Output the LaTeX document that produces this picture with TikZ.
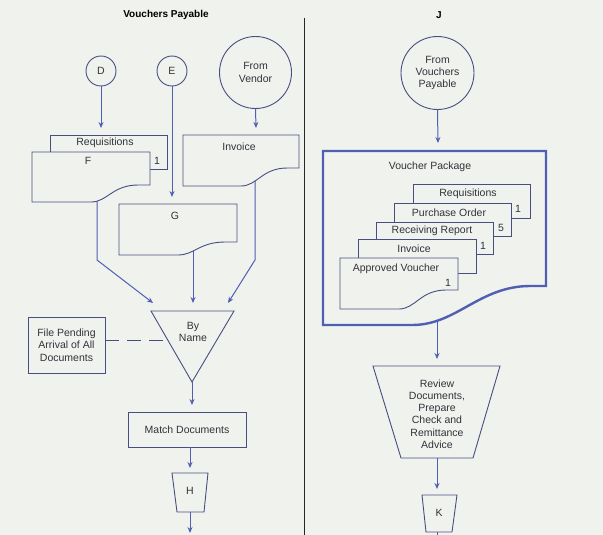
\documentclass[tikz,border=0pt]{standalone}
\usepackage{fontspec}
\setmainfont{Liberation Sans}
\usetikzlibrary{arrows.meta}
\definecolor{bg}{RGB}{240,242,238}
\definecolor{outl}{RGB}{72,78,128}
\definecolor{arr}{RGB}{80,94,180}
\definecolor{txt}{RGB}{50,50,58}
% [opts]{left}{top}{right}{bottom-left}{bottom-right}
\newcommand{\docshape}[6][]{%
  \pgfmathsetmacro\dxa{#2+0.5*(#4-#2)}%
  \pgfmathsetmacro\dxb{#2+0.64*(#4-#2)}%
  \pgfmathsetmacro\dxd{#2+0.68*(#4-#2)}%
  \pgfmathsetmacro\dxc{#2+0.9*(#4-#2)}%
  \draw[docline,#1] (#2,#3) -- (#4,#3) -- (#4,#6) -- (\dxc,#6)
     .. controls (\dxd,#6) and (\dxb,#5) .. (\dxa,#5) -- (#2,#5) -- cycle;}
\newcommand{\pkgshape}[6][]{%
  \pgfmathsetmacro\dxa{#2+0.4*(#4-#2)}%
  \pgfmathsetmacro\dxb{#2+0.6*(#4-#2)}%
  \pgfmathsetmacro\dxd{#2+0.7*(#4-#2)}%
  \pgfmathsetmacro\dxc{#2+0.93*(#4-#2)}%
  \draw[docline,#1] (#2,#3) -- (#4,#3) -- (#4,#6) -- (\dxc,#6)
     .. controls (\dxd,#6) and (\dxb,#5) .. (\dxa,#5) -- (#2,#5) -- cycle;}
\begin{document}
\begin{tikzpicture}[x=1pt,y=-1pt,
  font=\fontsize{10.5}{12.3}\selectfont,
  docline/.style={draw=outl,line width=0.9pt,fill=bg},
  shapeline/.style={draw=outl,line width=0.9pt},
  conn/.style={draw=arr,line width=1pt,-{Stealth[length=6pt,width=5pt]}},
  plain/.style={draw=arr,line width=1pt},
  lbl/.style={text=txt,inner sep=0pt,align=center},
  circ/.style={circle,draw=outl,line width=0.9pt,inner sep=0pt,text=txt,align=center},
  boxnode/.style={rectangle,draw=outl,line width=0.9pt,inner sep=0pt,text=txt,align=center}]
\fill[bg] (0,0) rectangle (603,535);
\useasboundingbox (0,0) rectangle (603,535);

% divider and titles
\coordinate (divtop) at (304,18);
\coordinate (divbot) at (304,535);
\draw[black!85,line width=0.8pt] (divtop) -- (divbot);
\node[lbl,text=black,font=\fontsize{10}{12}\selectfont\bfseries] (title1) at (166,15) {Vouchers Payable};
\node[lbl,text=black,font=\fontsize{10}{12}\selectfont\bfseries] (title2) at (439,15) {J};

% ---------- left column ----------
\node[circ,minimum size=30pt] (D) at (101,71) {D};
\node[circ,minimum size=30pt] (E) at (172,71) {E};
\node[circ,minimum size=72pt] (V) at (255.5,72.5) {From\\Vendor};

\coordinate (Dend) at (101,128);
\coordinate (Eend) at (172,197);
\coordinate (Vend) at (256,128);
\draw[conn] (D.south) -- (Dend);
\draw[conn] (E.south) -- (Eend);
\draw[conn] (V.south) -- (Vend);

% connectors towards the triangle (start hidden under the documents)
\coordinate (Fout) at (97,195);
\coordinate (Fbend) at (97,260);
\coordinate (T1) at (153,303);
\coordinate (Gout) at (193,240);
\coordinate (T2) at (193,303);
\coordinate (Iout) at (255,172);
\coordinate (Ibend) at (255,260);
\coordinate (T3) at (228,303);
\draw[conn] (Fout) -- (Fbend) -- (T1);
\draw[conn] (Gout) -- (T2);
\draw[conn] (Iout) -- (Ibend) -- (T3);

% documents
\draw[docline] (50,135) rectangle (167,169);
\node[lbl] (reqL) at (105,143) {Requisitions};
\node[lbl] (reqL1) at (157,161) {1};
\docshape{32}{152}{150}{202}{185}
\node[lbl] (F) at (88,161) {F};
\docshape{183}{135}{299}{186}{168}
\node[lbl] (invL) at (239,147) {Invoice};
\docshape{119}{204}{237}{255}{242}
\node[lbl] (G) at (175,216) {G};

% triangle By Name
\coordinate (TL) at (151,311);
\coordinate (TR) at (234,311);
\coordinate (TA) at (192,382);
\draw[shapeline,fill=bg] (TL) -- (TR) -- (TA) -- cycle;
\node[lbl] (byname) at (193,332) {By\\Name};

% file pending
\node[boxnode,minimum width=77pt,minimum height=56pt] (FP) at (66.5,345) {File Pending\\Arrival of All\\Documents};
\coordinate (FPend) at (167.5,340);
\draw[draw=outl,line width=1pt,dash pattern=on 14pt off 8pt] (FP.east |- FPend) -- (FPend);

% match documents
\coordinate (TAend) at (192,405);
\draw[conn] (TA) -- (TAend);
\node[boxnode,minimum width=118pt,minimum height=35pt] (MD) at (187,429.5) {Match Documents};
\coordinate (MDout) at (190,447);
\coordinate (Hin) at (190,468);
\draw[conn] (MDout) -- (Hin);

% H
\draw[shapeline] (172,473) -- (208,473) -- (204,512) -- (177,512) -- cycle;
\node[lbl] (H) at (190,491) {H};
\coordinate (Hout) at (190,512);
\coordinate (Hend) at (190,533);
\draw[conn] (Hout) -- (Hend);

% ---------- right column ----------
\node[circ,minimum size=73pt] (VP) at (437.5,73) {From\\Vouchers\\Payable};
\coordinate (VPend) at (438,143);
\draw[conn] (VP.south) -- (VPend);

\coordinate (PKout) at (437,315);
\coordinate (PKend) at (437,359);
\draw[conn] (PKout) -- (PKend);

% voucher package
\pkgshape[draw=arr,line width=2.4pt]{323}{151}{546}{325}{286}
\node[lbl] (vpk) at (430,167) {Voucher Package};

\draw[docline] (413,184) rectangle (530,218);
\node[lbl] (r1) at (468,194) {Requisitions};
\node[lbl] (r1n) at (518,209) {1};
\draw[docline] (394,203) rectangle (511,236);
\node[lbl] (r2) at (449,213) {Purchase Order};
\node[lbl] (r2n) at (501,228) {5};
\draw[docline] (376,222) rectangle (493,254);
\node[lbl] (r3) at (432,231) {Receiving Report};
\node[lbl] (r3n) at (483,246) {1};
\draw[docline] (358,239) rectangle (476,273);
\node[lbl] (r4) at (414,249) {Invoice};
\docshape{340}{258}{458}{309}{290}
\node[lbl] (r5) at (396,269) {Approved Voucher};
\node[lbl] (r5n) at (448,283) {1};

% review trapezoid
\draw[shapeline] (373,366) -- (500,366) -- (473,458) -- (401,458) -- cycle;
\node[lbl] (rev) at (437,414) {Review\\Documents,\\Prepare\\Check and\\Remittance\\Advice};
\coordinate (RVout) at (437,458);
\coordinate (Kin) at (437,489);
\draw[conn] (RVout) -- (Kin);

% K
\draw[shapeline] (422,495) -- (457,495) -- (452,532) -- (426,532) -- cycle;
\node[lbl] (K) at (439,513) {K};
\coordinate (Kout) at (437,532);
\coordinate (Kend) at (437,535);
\draw[plain] (Kout) -- (Kend);
\end{tikzpicture}
\end{document}
